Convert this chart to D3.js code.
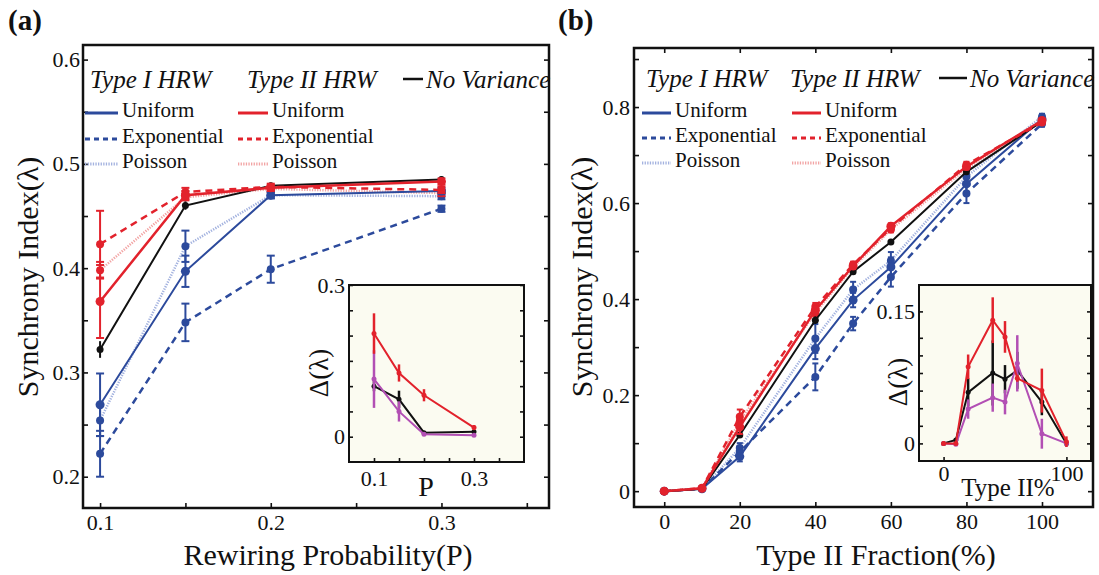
<!DOCTYPE html>
<html>
<head>
<meta charset="utf-8">
<script src="https://cdn.jsdelivr.net/npm/d3@7"></script>
<style>
  body { margin: 0; background: #fff; }
  svg text { font-family: "Liberation Serif", "Times New Roman", serif; fill: #111; }
</style>
</head>
<body>
<svg id="chart" width="1099" height="575"></svg>
<script>
// ---- panel (a): synchrony vs rewiring probability ----
const rewiringP = [0.1, 0.15, 0.2, 0.3];
const aNoVariance   = [0.322, 0.460, 0.479, 0.485];
const aNoVarianceErr= [0.008, 0.004, 0.003, 0.003];
const a1Uniform     = [0.269, 0.397, 0.470, 0.474];
const a1UniformErr  = [0.030, 0.015, 0.003, 0.003];
const a1Exp         = [0.222, 0.348, 0.399, 0.457];
const a1ExpErr      = [0.022, 0.018, 0.013, 0.003];
const a1Poisson     = [0.254, 0.421, 0.470, 0.469];
const a1PoissonErr  = [0.015, 0.015, 0.003, 0.003];
const a2Uniform     = [0.368, 0.470, 0.477, 0.483];
const a2UniformErr  = [0.035, 0.004, 0.003, 0.003];
const a2Exp         = [0.423, 0.473, 0.478, 0.475];
const a2ExpErr      = [0.032, 0.004, 0.003, 0.003];
const a2Poisson     = [0.398, 0.468, 0.476, 0.472];
const a2PoissonErr  = [0.008, 0.003, 0.003, 0.003];

// inset (a): delta lambda
const insetARed       = [0.204, 0.126, 0.082, 0.018];
const insetARedErr    = [0.040, 0.017, 0.012, 0.005];
const insetABlack     = [0.100, 0.074, 0.008, 0.010];
const insetABlackErr  = [0.010, 0.017, 0.002, 0.003];
const insetAPurple    = [0.114, 0.050, 0.005, 0.003];
const insetAPurpleErr = [0.057, 0.020, 0.003, 0.003];

// ---- panel (b): synchrony vs type II fraction ----
const typeIIFraction = [0, 10, 20, 40, 50, 60, 80, 100];
const bNoVariance   = [0, 0.005, 0.117, 0.356, 0.457, 0.519, 0.665, 0.770];
const bNoVarianceErr= [0.002, 0.002, 0.006, 0.008, 0.005, 0.006, 0.006, 0.004];
const b1Uniform     = [0, 0.005, 0.072, 0.297, 0.398, 0.467, 0.640, 0.775];
const b1UniformErr  = [0.002, 0.002, 0.010, 0.022, 0.015, 0.020, 0.020, 0.006];
const b1Exp         = [0, 0.005, 0.082, 0.238, 0.349, 0.446, 0.620, 0.765];
const b1ExpErr      = [0.002, 0.002, 0.012, 0.028, 0.014, 0.020, 0.020, 0.006];
const b1Poisson     = [0, 0.005, 0.090, 0.318, 0.420, 0.480, 0.655, 0.780];
const b1PoissonErr  = [0.002, 0.002, 0.010, 0.030, 0.016, 0.018, 0.018, 0.006];
const b2Uniform     = [0, 0.006, 0.134, 0.377, 0.469, 0.552, 0.676, 0.772];
const b2UniformErr  = [0.002, 0.002, 0.015, 0.008, 0.006, 0.006, 0.006, 0.004];
const b2Exp         = [0, 0.006, 0.155, 0.384, 0.472, 0.548, 0.680, 0.768];
const b2ExpErr      = [0.002, 0.002, 0.015, 0.008, 0.006, 0.006, 0.006, 0.004];
const b2Poisson     = [0, 0.006, 0.145, 0.372, 0.466, 0.545, 0.672, 0.770];
const b2PoissonErr  = [0.002, 0.002, 0.012, 0.008, 0.006, 0.006, 0.006, 0.004];

// inset (b)
const insetBRed       = [0, 0, 0.087, 0.140, 0.121, 0.074, 0.060, 0.002];
const insetBRedErr    = [0.002, 0.002, 0.014, 0.026, 0.018, 0.004, 0.025, 0.006];
const insetBBlack     = [0, 0.004, 0.058, 0.080, 0.073, 0.083, 0.047, 0];
const insetBBlackErr  = [0.001, 0.002, 0.016, 0.037, 0.016, 0.021, 0.015, 0.002];
const insetBPurple    = [0, -0.001, 0.039, 0.052, 0.047, 0.091, 0.011, 0];
const insetBPurpleErr = [0.002, 0.002, 0.011, 0.016, 0.014, 0.032, 0.017, 0.004];

// ticks and labels
const aXTicks = [0.1, 0.15, 0.2, 0.25, 0.3, 0.35];
const aXLabels = ['0.1', '', '0.2', '', '0.3', ''];
const aYTicks = [0.2, 0.25, 0.3, 0.35, 0.4, 0.45, 0.5, 0.55, 0.6];
const aYLabels = ['0.2', '', '0.3', '', '0.4', '', '0.5', '', '0.6'];
const bXTicks = [0, 20, 40, 60, 80, 100];
const bXLabels = ['0', '20', '40', '60', '80', '100'];
const bYTicks = [0, 0.1, 0.2, 0.3, 0.4, 0.5, 0.6, 0.7, 0.8, 0.9];
const bYLabels = ['0', '', '0.2', '', '0.4', '', '0.6', '', '0.8', ''];
const iaXTicks = [0.1, 0.15, 0.2, 0.25, 0.3, 0.35];
const iaXLabels = ['0.1', '', '', '', '0.3', ''];
const iaYTicks = [0, 0.05, 0.1, 0.15, 0.2, 0.25, 0.3];
const iaYLabels = ['0', '', '', '', '', '', '0.3'];
const ibXTicks = [0, 100];
const ibXLabels = ['0', '100'];
const ibYTicks = [0, 0.02, 0.04, 0.06, 0.08, 0.1, 0.12, 0.15];
const ibYLabels = ['0', '', '', '', '', '', '', '0.15'];

const BLUE = '#2c4a9c', RED = '#e2222c', LBLUE = '#a3b2df', LRED = '#f2a4a4', PURPLE = '#b24fb4';
const solid = null, dashed = '7,5', dotted = '1.3,1.3';

const svg = d3.select('#chart');

function zip(xs, ys, es) { return xs.map((x, i) => [x, ys[i], es[i]]); }

function axes(g, x, y, o) {
  const [x0, x1] = x.range(), [y0, y1] = y.range();
  const fs = o.fontSize;
  const bottom = g.append('g').attr('transform', `translate(0,${y0})`)
    .call(d3.axisBottom(x).tickValues(o.xTicks).tickSizeInner(-o.tick).tickSizeOuter(0)
      .tickPadding(o.xPad).tickFormat((d, i) => o.xLabels[i]));
  const left = g.append('g').attr('transform', `translate(${x0},0)`)
    .call(d3.axisLeft(y).tickValues(o.yTicks).tickSizeInner(-o.tick).tickSizeOuter(0)
      .tickPadding(o.yPad).tickFormat((d, i) => o.yLabels[i]));
  const right = g.append('g').attr('transform', `translate(${x1},0)`)
    .call(d3.axisRight(y).tickValues(o.yTicks).tickSizeInner(-o.tick).tickSizeOuter(0).tickFormat(''));
  const grps = [bottom, left, right];
  if (o.topTicks) {
    grps.push(g.append('g').attr('transform', `translate(0,${y1})`)
      .call(d3.axisTop(x).tickValues(o.xTicks).tickSizeInner(-o.tick).tickSizeOuter(0).tickFormat('')));
  }
  grps.forEach(a => {
    a.select('.domain').remove();
    a.attr('font-family', null).attr('font-size', null);
    a.selectAll('line').attr('stroke', '#111').attr('stroke-width', 1.6);
    a.selectAll('text').style('font-size', fs + 'px').attr('fill', '#111');
  });
  g.append('rect').attr('x', x0).attr('y', y1).attr('width', x1 - x0).attr('height', y0 - y1)
    .attr('fill', 'none').attr('stroke', '#111').attr('stroke-width', o.frameW);
}

function series(g, x, y, pts, s) {
  const line = d3.line().x(d => x(d[0])).y(d => y(d[1]));
  g.append('path').datum(pts).attr('d', line).attr('fill', 'none')
    .attr('stroke', s.color).attr('stroke-width', s.width)
    .attr('stroke-dasharray', s.dash);
  const eb = g.append('g').attr('stroke', s.barColor || s.color).attr('stroke-width', s.barW || 2);
  pts.forEach(d => {
    if (d[2] * (y.range()[0] - y.range()[1]) / (y.domain()[1] - y.domain()[0]) < 1.5) return;
    const cx = x(d[0]), ya = y(d[1] - d[2]), yb = y(d[1] + d[2]);
    eb.append('line').attr('x1', cx).attr('x2', cx).attr('y1', ya).attr('y2', yb);
    if (s.cap) {
      eb.append('line').attr('x1', cx - s.cap).attr('x2', cx + s.cap).attr('y1', ya).attr('y2', ya);
      eb.append('line').attr('x1', cx - s.cap).attr('x2', cx + s.cap).attr('y1', yb).attr('y2', yb);
    }
  });
  g.append('g').selectAll('circle').data(pts).join('circle')
    .attr('cx', d => x(d[0])).attr('cy', d => y(d[1])).attr('r', s.r)
    .attr('fill', s.markColor || s.color);
}

function legend(g, o) {
  g.append('text').attr('x', o.t1).attr('y', o.top).style('font-size', '25px').style('font-style', 'italic').text('Type I HRW');
  g.append('text').attr('x', o.t2).attr('y', o.top).style('font-size', '25px').style('font-style', 'italic').text('Type II HRW');
  g.append('line').attr('x1', o.nv[0]).attr('x2', o.nv[1]).attr('y1', o.top - 9).attr('y2', o.top - 9)
    .attr('stroke', '#111').attr('stroke-width', 2.5);
  g.append('text').attr('x', o.nv[1] + 3).attr('y', o.top).style('font-size', '25px').style('font-style', 'italic').text('No Variance');
  const rows = [['Uniform', solid, BLUE, RED], ['Exponential', '5,4', BLUE, RED], ['Poisson', dotted, LBLUE, LRED]];
  rows.forEach((r, i) => {
    const yy = o.rows[i];
    [[o.c1, r[2]], [o.c2, r[3]]].forEach(c => {
      g.append('line').attr('x1', c[0][0]).attr('x2', c[0][1]).attr('y1', yy - 4).attr('y2', yy - 4)
        .attr('stroke', c[1]).attr('stroke-width', 3).attr('stroke-dasharray', r[1]);
      g.append('text').attr('x', c[0][1] + 4).attr('y', yy).style('font-size', '21px').text(r[0]);
    });
  });
}

// ----- panel (a) -----
const xA = d3.scaleLinear([0.09, 0.363], [83, 549]);
const yA = d3.scaleLinear([0.17, 0.614], [508, 45]);
const gA = svg.append('g');
axes(gA, xA, yA, { xTicks: aXTicks, xLabels: aXLabels, yTicks: aYTicks, yLabels: aYLabels,
  tick: 5, xPad: 6, yPad: 3, fontSize: 22, frameW: 2.5 });
legend(gA, { t1: 90, t2: 247, top: 88, nv: [403, 423], c1: [85, 118], c2: [238, 268], rows: [117, 143, 168] });

const mainA = [
  [a1Poisson, a1PoissonErr, { color: LBLUE, dash: dotted, width: 2.5, r: 4, markColor: BLUE, barColor: BLUE, cap: 4 }],
  [a2Poisson, a2PoissonErr, { color: LRED, dash: dotted, width: 2.5, r: 4, markColor: RED, barColor: RED, cap: 4 }],
  [a1Exp, a1ExpErr, { color: BLUE, dash: dashed, width: 2.5, r: 4, cap: 4 }],
  [a1Uniform, a1UniformErr, { color: BLUE, dash: solid, width: 2, r: 4.5, cap: 4 }],
  [aNoVariance, aNoVarianceErr, { color: '#111', dash: solid, width: 2, r: 3.5, cap: 0 }],
  [a2Exp, a2ExpErr, { color: RED, dash: dashed, width: 2.5, r: 4, cap: 4 }],
  [a2Uniform, a2UniformErr, { color: RED, dash: solid, width: 2.5, r: 4.5, cap: 4 }]
];
mainA.forEach(m => series(gA, xA, yA, zip(rewiringP, m[0], m[1]), m[2]));

// inset (a)
const xIA = d3.scaleLinear([0.05, 0.4], [349, 524]);
const yIA = d3.scaleLinear([-0.05, 0.3], [462, 285]);
const gIA = svg.append('g');
gIA.append('rect').attr('x', 349).attr('y', 285).attr('width', 175).attr('height', 177).attr('fill', '#fbfbf1');
axes(gIA, xIA, yIA, { xTicks: iaXTicks, xLabels: iaXLabels, yTicks: iaYTicks, yLabels: iaYLabels,
  tick: 4, xPad: 8, yPad: 4, fontSize: 22, frameW: 2 });
[[insetABlack, insetABlackErr, '#111'], [insetAPurple, insetAPurpleErr, PURPLE], [insetARed, insetARedErr, RED]]
  .forEach(m => series(gIA, xIA, yIA, zip(rewiringP, m[0], m[1]),
    { color: m[2], dash: solid, width: 2, r: 2.5, barW: 2.5, cap: 0 }));
gIA.append('text').attr('x', 426).attr('y', 496).attr('text-anchor', 'middle').style('font-size', '28px').text('P');
gIA.append('text').attr('transform', 'translate(328,373) rotate(-90)').attr('text-anchor', 'middle')
  .style('font-size', '27px').text('Δ(λ)');

// ----- panel (b) -----
const xB = d3.scaleLinear([-8, 113.5], [634, 1093]);
const yB = d3.scaleLinear([-0.033, 0.923], [507, 48]);
const gB = svg.append('g');
axes(gB, xB, yB, { xTicks: bXTicks, xLabels: bXLabels, yTicks: bYTicks, yLabels: bYLabels,
  tick: 5, xPad: 6, yPad: 4, fontSize: 22, frameW: 2.5, topTicks: true });
legend(gB, { t1: 646, t2: 790, top: 87, nv: [939, 967], c1: [642, 671], c2: [792, 821], rows: [117, 142, 167] });

const mainB = [
  [b1Poisson, b1PoissonErr, { color: LBLUE, dash: dotted, width: 2.5, r: 4, markColor: BLUE, barColor: BLUE, cap: 3 }],
  [b2Poisson, b2PoissonErr, { color: LRED, dash: dotted, width: 2.5, r: 4, markColor: RED, barColor: RED, cap: 3 }],
  [b1Exp, b1ExpErr, { color: BLUE, dash: dashed, width: 2.5, r: 4, cap: 3 }],
  [b1Uniform, b1UniformErr, { color: BLUE, dash: solid, width: 2, r: 4.5, cap: 3 }],
  [bNoVariance, bNoVarianceErr, { color: '#111', dash: solid, width: 2, r: 3.5, cap: 0 }],
  [b2Exp, b2ExpErr, { color: RED, dash: dashed, width: 2.5, r: 4, cap: 3 }],
  [b2Uniform, b2UniformErr, { color: RED, dash: solid, width: 2.5, r: 4.5, cap: 3 }]
];
mainB.forEach(m => series(gB, xB, yB, zip(typeIIFraction, m[0], m[1]), m[2]));

// inset (b)
const xIB = d3.scaleLinear([-20, 120], [919, 1091]);
const yIB = d3.scaleLinear([-0.02, 0.18], [461, 285]);
const gIB = svg.append('g');
gIB.append('rect').attr('x', 919).attr('y', 285).attr('width', 172).attr('height', 176).attr('fill', '#fbfbf1');
axes(gIB, xIB, yIB, { xTicks: ibXTicks, xLabels: ibXLabels, yTicks: ibYTicks, yLabels: ibYLabels,
  tick: 4, xPad: 4, yPad: 4, fontSize: 22, frameW: 2 });
[[insetBBlack, insetBBlackErr, '#111'], [insetBPurple, insetBPurpleErr, PURPLE], [insetBRed, insetBRedErr, RED]]
  .forEach(m => series(gIB, xIB, yIB, zip(typeIIFraction, m[0], m[1]),
    { color: m[2], dash: solid, width: 2, r: 2.5, barW: 2.5, cap: 0 }));
gIB.append('text').attr('x', 1008).attr('y', 496).attr('text-anchor', 'middle').style('font-size', '25px').text('Type II%');
gIB.append('text').attr('transform', 'translate(907,382) rotate(-90)').attr('text-anchor', 'middle')
  .style('font-size', '27px').text('Δ(λ)');

// titles
svg.append('text').attr('x', 8).attr('y', 30).style('font-size', '29px').style('font-weight', 'bold').text('(a)');
svg.append('text').attr('x', 558).attr('y', 30).style('font-size', '29px').style('font-weight', 'bold').text('(b)');
svg.append('text').attr('x', 328).attr('y', 565).attr('text-anchor', 'middle').style('font-size', '30px').text('Rewiring Probability(P)');
svg.append('text').attr('x', 876).attr('y', 565).attr('text-anchor', 'middle').style('font-size', '30px').text('Type II Fraction(%)');
svg.append('text').attr('transform', 'translate(38,277) rotate(-90)').attr('text-anchor', 'middle')
  .style('font-size', '30px').text('Synchrony Index(λ)');
svg.append('text').attr('transform', 'translate(592,277) rotate(-90)').attr('text-anchor', 'middle')
  .style('font-size', '30px').text('Synchrony Index(λ)');
</script>
</body>
</html>
